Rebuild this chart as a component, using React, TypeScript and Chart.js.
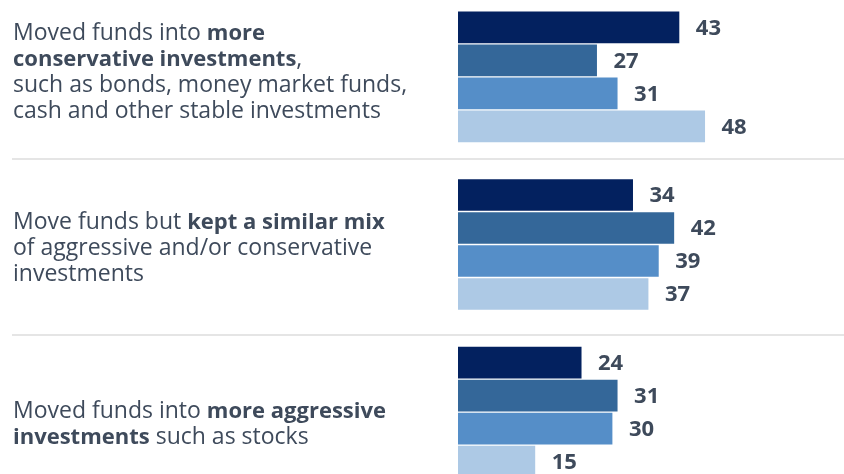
import React, { useEffect, useRef } from "react";
import { Chart, registerables } from "chart.js";

Chart.register(...registerables);

const categories = ["More conservative", "Similar mix", "More aggressive"];
const categoryText: string[][] = [
  [
    "Moved funds into **more**",
    "**conservative investments**,",
    "such as bonds, money market funds,",
    "cash and other stable investments",
  ],
  [
    "Move funds but **kept a similar mix**",
    "of aggressive and/or conservative",
    "investments",
  ],
  ["Moved funds into **more aggressive**", "**investments** such as stocks"],
];
const seriesNames = ["Series 1", "Series 2", "Series 3", "Series 4"];
const series1 = [43, 34, 24];
const series2 = [27, 42, 31];
const series3 = [31, 39, 30];
const series4 = [48, 37, 15];
const seriesColors = ["#03215f", "#346799", "#558ec8", "#adc9e5"];

const TEXT_COLOR = "#3e4a5b";
const FONT = '"Open Sans", "Noto Sans", sans-serif';
// text rows / separators use a slightly wider pitch than the bar groups
const ROW_SCALE = 1.05;
const ROW_SHIFT = 2.5;
const TEXT_SHIFT = 1.5;

const annotate = {
  id: "annotate",
  afterDatasetsDraw(chart: any) {
    const ctx = chart.ctx;
    ctx.save();
    ctx.fillStyle = TEXT_COLOR;
    ctx.font = `bold 22px ${FONT}`;
    ctx.textAlign = "left";
    ctx.textBaseline = "middle";
    chart.data.datasets.forEach((ds: any, di: number) => {
      const meta = chart.getDatasetMeta(di);
      meta.data.forEach((bar: any, i: number) => {
        ctx.fillText(String(ds.data[i]), bar.x + 16.5, bar.y + 1);
      });
    });
    ctx.restore();
  },
  afterDraw(chart: any) {
    const ctx = chart.ctx;
    const y = chart.scales.y;
    const mid = (categories.length - 1) / 2;
    const pitch = (y.getPixelForValue(1) - y.getPixelForValue(0)) * ROW_SCALE;
    const anchor = y.getPixelForValue(mid) + ROW_SHIFT;
    const rowCenter = (i: number) => anchor + (i - mid) * pitch;
    ctx.save();
    // separators
    ctx.strokeStyle = "#dcdcdc";
    ctx.lineWidth = 1.5;
    for (let i = 0; i < categories.length - 1; i++) {
      const py = rowCenter(i + 0.5);
      ctx.beginPath();
      ctx.moveTo(12, py);
      ctx.lineTo(chart.width, py);
      ctx.stroke();
    }
    // category text
    const lineH = 26;
    ctx.fillStyle = TEXT_COLOR;
    ctx.textBaseline = "middle";
    ctx.textAlign = "left";
    categoryText.forEach((lines, ci) => {
      const cy = rowCenter(ci) + TEXT_SHIFT;
      const startY = cy - ((lines.length - 1) * lineH) / 2;
      lines.forEach((line, li) => {
        const parts = line.split("**");
        let x = 13;
        const ly = startY + li * lineH;
        parts.forEach((part, pi) => {
          if (!part) return;
          ctx.font = pi % 2 === 1 ? `bold 22px ${FONT}` : `23px ${FONT}`;
          ctx.fillText(part, x, ly);
          x += ctx.measureText(part).width;
        });
      });
    });
    ctx.restore();
  },
};

export default function App() {
  const ref = useRef<HTMLCanvasElement | null>(null);
  useEffect(() => {
    if (!ref.current) return;
    const allSeries = [series1, series2, series3, series4];
    const chart = new Chart(ref.current, {
      type: "bar",
      data: {
        labels: categories,
        datasets: allSeries.map((d, i) => ({
          label: seriesNames[i],
          data: d,
          backgroundColor: seriesColors[i],
          borderWidth: 0,
          categoryPercentage: 0.787,
          barPercentage: 0.96,
        })),
      },
      options: {
        indexAxis: "y",
        responsive: false,
        animation: false,
        layout: { padding: { left: 458, right: 0, top: 0, bottom: 0 } },
        plugins: {
          legend: { display: false },
          tooltip: { enabled: false },
        },
        scales: {
          x: { display: false, min: 0, max: 75 },
          y: { display: false, offset: true },
        },
      },
      plugins: [annotate],
    });
    return () => chart.destroy();
  }, []);
  return (
    <div
      style={{
        position: "fixed",
        left: 0,
        top: 0,
        width: 844,
        height: 474,
        overflow: "hidden",
        background: "#fff",
      }}
    >
      <div style={{ position: "absolute", left: 0, top: -7, width: 844, height: 503 }}>
        <canvas ref={ref} width={844} height={503} style={{ display: "block" }} />
      </div>
    </div>
  );
}
